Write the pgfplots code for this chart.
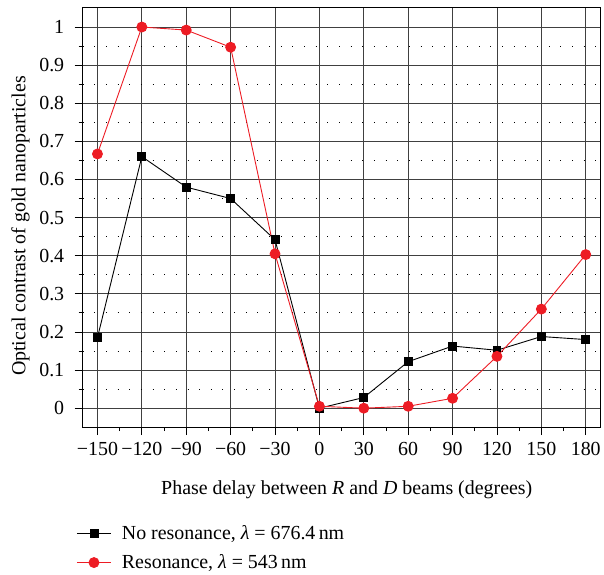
\documentclass[border=0pt]{standalone}
\usepackage{fontspec}
\setmainfont{Liberation Serif}
\usepackage{pgfplots}
\pgfplotsset{compat=1.18}
\definecolor{myred}{RGB}{237,28,36}
\begin{document}
\begin{tikzpicture}
\begin{axis}[
  name=ax,
  scale only axis,
  width=520pt, height=421pt,
  xmin=-160, xmax=190, ymin=-0.05, ymax=1.05,
  xtick={-150,-120,...,180},
  xticklabels={−150,−120,−90,−60,−30,0,30,60,90,120,150,180},
  ytick={0,0.1,...,1.0},
  yticklabel style={/pgf/number format/fixed,/pgf/number format/precision=1, xshift=-7pt},
  xticklabel style={yshift=-4pt},
  /pgf/number format/assume math mode=true,
  minor x tick num=1, minor y tick num=1,
  tick align=outside, tick pos=left,
  major tick length=8pt, minor tick length=4pt,
  every tick/.style={black, line width=0.8pt},
  xmajorgrids, ymajorgrids, yminorgrids,
  major grid style={black!75, line width=0.8pt},
  minor grid style={black, line width=0.9pt, dash pattern=on 0.9pt off 10.8pt},
  axis line style={line width=1pt},
  ticklabel style={font=\fontsize{20}{22}\selectfont},
  label style={font=\fontsize{20}{22}\selectfont},
  xlabel={Phase delay between \textit{R} and \textit{D} beams (degrees)},
  ylabel={Optical contrast of gold nanoparticles},
  xlabel style={at={(axis description cs:0.51,-0.150)}, anchor=center},
  ylabel style={at={(axis description cs:-0.12,0.48)}, anchor=center},
  legend style={at={(-0.018,-0.224)}, anchor=north west, draw=none, fill=none,
    font=\fontsize{20}{22}\selectfont, row sep=10pt},
  legend cell align=left,
  legend image code/.code={\draw[mark repeat=2,mark phase=2] plot coordinates {(0cm,0cm) (0.6cm,0cm) (1.2cm,0cm)}; \path (1.5cm,0cm);},
]
\addplot[black, line width=0.9pt, mark=square*, mark size=4pt, mark options={solid}] coordinates {
(-150,0.185) (-120,0.66) (-90,0.58) (-60,0.55) (-30,0.442) (0,0.0) (30,0.028) (60,0.122) (90,0.163) (120,0.152) (150,0.188) (180,0.18)};
\addlegendentry{No resonance, \textit{λ} = 676.4\,nm}
\addplot[myred, line width=0.9pt, mark=*, mark size=5pt, mark options={solid}] coordinates {
(-150,0.667) (-120,1.0) (-90,0.992) (-60,0.947) (-30,0.405) (0,0.005) (30,0.0) (60,0.005) (90,0.026) (120,0.136) (150,0.26) (180,0.403)};
\addlegendentry{Resonance, \textit{λ} = 543\,nm}
\end{axis}
\path ([yshift=8pt]ax.north);
\path ([xshift=-83pt]ax.south west);
\end{tikzpicture}
\end{document}
